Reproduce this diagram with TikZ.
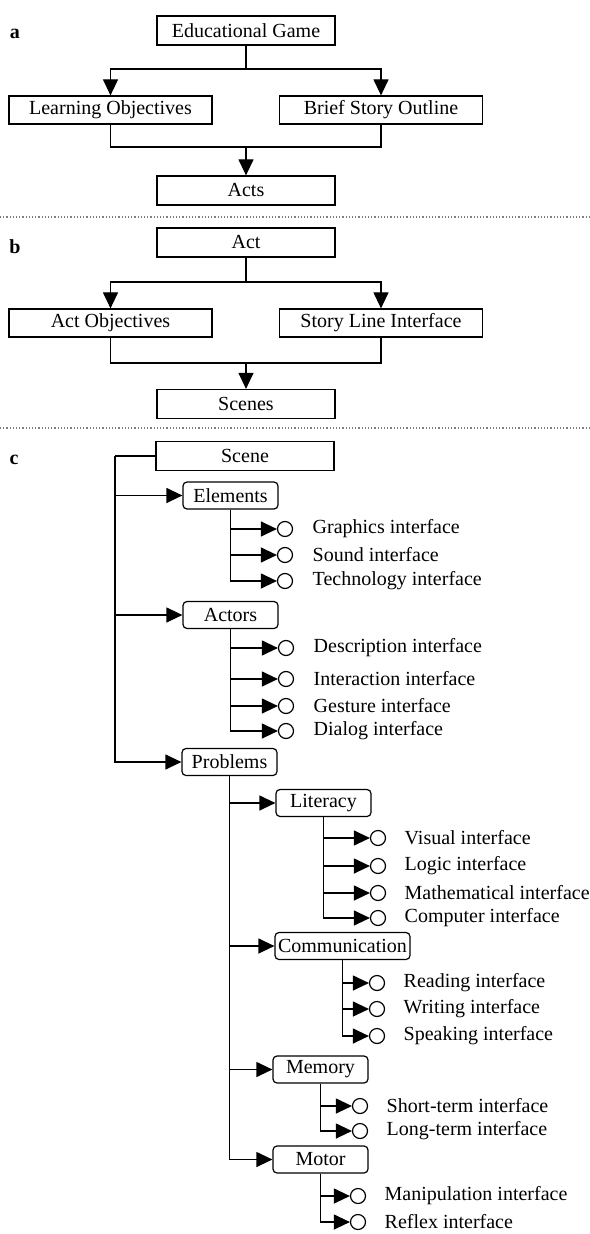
\documentclass[tikz,border=0pt]{standalone}
\usepackage{fontspec}
\setmainfont{Liberation Serif}
\usetikzlibrary{arrows.meta,positioning}

\begin{document}
\begin{tikzpicture}[x=0.5pt,y=-0.5pt,line width=0.6pt,
  >={Triangle[length=8pt,width=7.5pt]},
  bigbox/.style={draw,rectangle,minimum width=89pt,minimum height=14.5pt,inner sep=0pt},
  widebox/.style={draw,rectangle,minimum width=101.5pt,minimum height=14pt,inner sep=0pt},
  roundbox/.style={draw,rounded corners=2pt,minimum width=47.5pt,minimum height=13.5pt,inner sep=0pt},
  port/.style={draw,circle,minimum size=7.5pt,inner sep=0pt},
  iface/.style={inner sep=0pt},
  sep/.style={gray,densely dotted},
  part/.style={font=\bfseries}]
\useasboundingbox (0,0) rectangle (589,1234);

% a
\node[part] (la) at (15,34) {a};
\node[bigbox] (game) at (246,30.5) {Educational Game};
\node[widebox] (learn) at (110.5,110) {Learning Objectives};
\node[widebox] (brief) at (381,110) {Brief Story Outline};
\node[bigbox] (acts) at (246,190.5) {Acts};
\coordinate (gamesplit) at (246,69);
\coordinate (actsmerge) at (246,147);
\draw (game) -- (gamesplit);
\draw[->] (gamesplit) -| (learn);
\draw[->] (gamesplit) -| (brief);
\draw (learn) |- (actsmerge) -| (brief);
\draw[->] (actsmerge) -- (acts);
\draw[sep] (0,217) -- (589,217);

% b
\node[part] (lb) at (15,247) {b};
\node[bigbox] (act) at (246,242.5) {Act};
\node[widebox] (actobj) at (110.5,323) {Act Objectives};
\node[widebox] (story) at (381,323) {Story Line Interface};
\node[bigbox] (scenes) at (246,404) {Scenes};
\coordinate (actsplit) at (246,282);
\coordinate (scenesmerge) at (246,363);
\draw (act) -- (actsplit);
\draw[->] (actsplit) -| (actobj);
\draw[->] (actsplit) -| (story);
\draw (actobj) |- (scenesmerge) -| (story);
\draw[->] (scenesmerge) -- (scenes);
\draw[sep] (0,428) -- (589,428);

% c
\node[part] (lc) at (14,460) {c};
\node[bigbox] (scene) at (245,456) {Scene};
\coordinate (spine) at (115,456);
\node[roundbox] (elements) at (230.5,495.5) {Elements};
\node[roundbox] (actors) at (230.5,615) {Actors};
\node[roundbox] (problems) at (229.5,762) {Problems};
\draw (scene) -- (spine);
\draw[->] (spine) |- (elements);
\draw[->] (spine) |- (actors);
\draw[->] (spine) |- (problems);

\node[roundbox] (literacy) at (323.5,803) {Literacy};
\node[roundbox,minimum width=67.5pt] (communication) at (342.5,946) {Communication};
\node[roundbox] (memory) at (320.5,1069.5) {Memory};
\node[roundbox] (motor) at (320.5,1159.5) {Motor};
\draw[->] (problems) |- (literacy);
\draw[->] (problems) |- (communication);
\draw[->] (problems) |- (memory);
\draw[->] (problems) |- (motor);

\foreach \n/\y/\txt in {graphics/529/Graphics,sound/555/Sound,technology/581/Technology} {
  \node[port] (\n) at (285,\y) {};
  \node[iface,right=9.5pt of \n] (\n-text) {\txt\ interface};
  \draw[->] (elements) |- (\n);
}
\foreach \n/\y/\txt in {description/648/Description,interaction/679/Interaction,gesture/706/Gesture,dialog/731/Dialog} {
  \node[port] (\n) at (286,\y) {};
  \node[iface,right=9.5pt of \n] (\n-text) {\txt\ interface};
  \draw[->] (actors) |- (\n);
}
\foreach \n/\y/\txt in {visual/838/Visual,logic/866/Logic,mathematical/893/Mathematical,computer/918/Computer} {
  \node[port] (\n) at (378,\y) {};
  \node[iface,right=9pt of \n] (\n-text) {\txt\ interface};
  \draw[->] (literacy) |- (\n);
}
\foreach \n/\y/\txt in {reading/983/Reading,writing/1009/Writing,speaking/1036/Speaking} {
  \node[port] (\n) at (377,\y) {};
  \node[iface,right=9pt of \n] (\n-text) {\txt\ interface};
  \draw[->] (communication) |- (\n);
}
\foreach \n/\y/\txt in {shortterm/1106/Short-term,longterm/1131/Long-term} {
  \node[port] (\n) at (360,\y) {};
  \node[iface,right=9pt of \n] (\n-text) {\txt\ interface};
  \draw[->] (memory) |- (\n);
}
\foreach \n/\y/\txt in {manipulation/1196/Manipulation,reflex/1222/Reflex} {
  \node[port] (\n) at (358,\y) {};
  \node[iface,right=9pt of \n] (\n-text) {\txt\ interface};
  \draw[->] (motor) |- (\n);
}
\end{tikzpicture}
\end{document}
